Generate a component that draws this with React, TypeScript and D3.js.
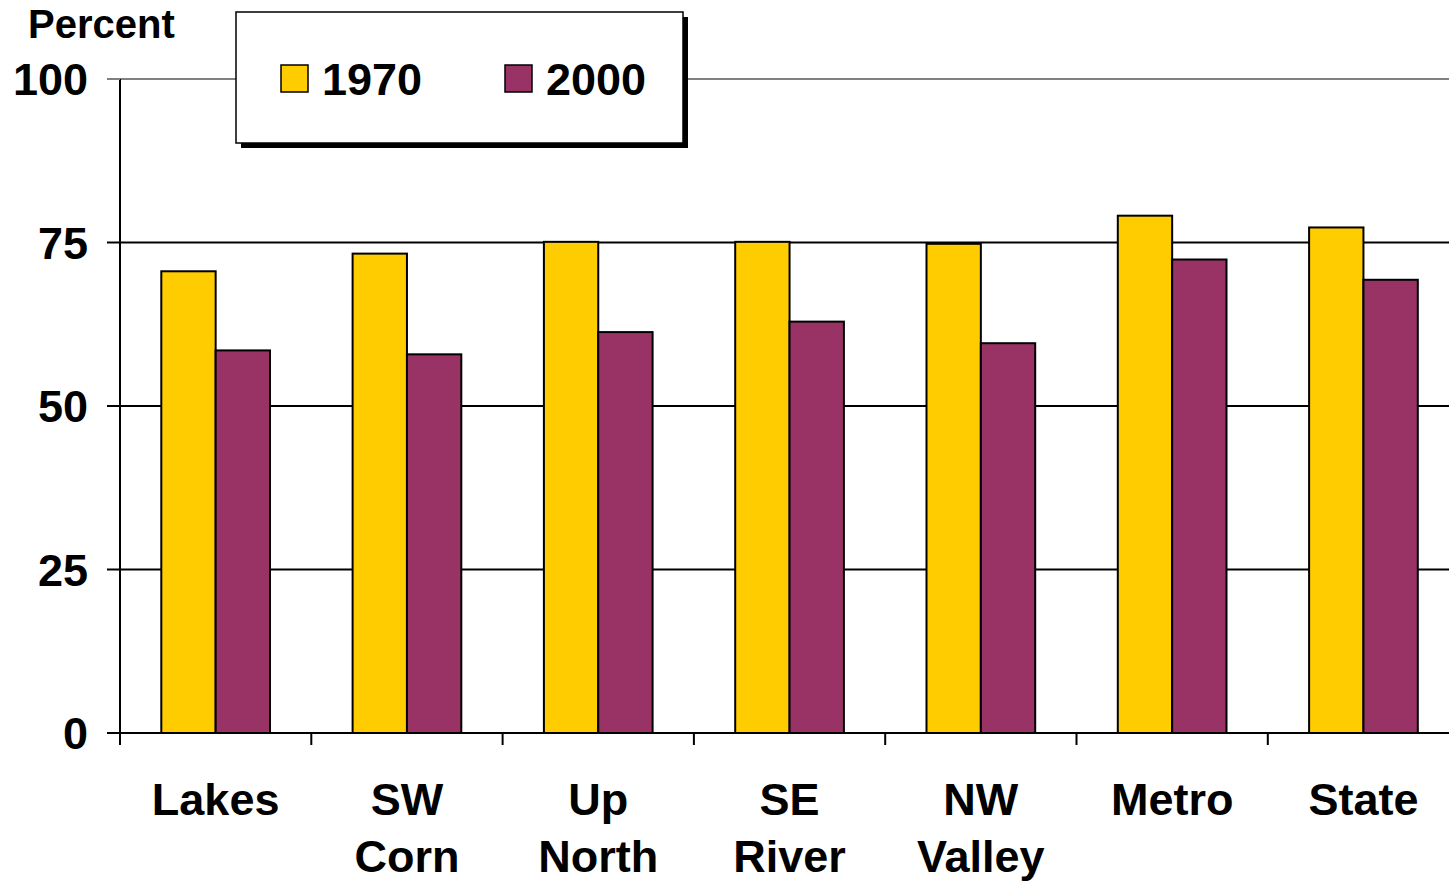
import React from 'react';
import { scaleBand, scaleLinear } from 'd3';

const categories = [['Lakes'], ['SW', 'Corn'], ['Up', 'North'], ['SE', 'River'], ['NW', 'Valley'], ['Metro'], ['State']];
const seriesNames = ['1970', '2000'];
const values1970 = [70.6, 73.3, 75.1, 75.1, 74.8, 79.1, 77.3];
const values2000 = [58.5, 57.9, 61.3, 62.9, 59.6, 72.4, 69.3];
const yTicks = [0, 25, 50, 75, 100];

const colors: Record<string, string> = { '1970': '#FFCC00', '2000': '#993366' };
const font = '"Liberation Sans", Arial, sans-serif';

export default function App() {
  const width = 1449;
  const height = 882;
  const left = 120;
  const top = 79;
  const bottom = 733;

  const keys = categories.map(c => c.join(' '));
  const x0 = scaleBand<string>().domain(keys).range([left, left + 191.3 * 7]).padding(0);
  const x1 = scaleBand<string>().domain(seriesNames).range([0, x0.bandwidth()]).paddingInner(0).paddingOuter(0.76);
  const y = scaleLinear().domain([0, 100]).range([bottom, top]);

  const rows = keys.map((k, i) => ({ key: k, lines: categories[i], v: { '1970': values1970[i], '2000': values2000[i] } as Record<string, number> }));

  return (
    <svg width={width} height={height} style={{ position: 'absolute', left: 0, top: 0, background: '#fff' }} fontFamily={font}>
      {/* gridlines */}
      {yTicks.filter(t => t > 0).map(t => (
        <line key={t} x1={left} x2={width} y1={y(t)} y2={y(t)} stroke={t === 100 ? '#808080' : '#000'} strokeWidth={2} />
      ))}

      {/* bars */}
      {rows.map(r => (
        <g key={r.key} transform={`translate(${x0(r.key)},0)`}>
          {seriesNames.map(s => (
            <rect key={s} x={x1(s)} y={y(r.v[s])} width={x1.bandwidth()} height={bottom - y(r.v[s])}
              fill={colors[s]} stroke="#000" strokeWidth={2} />
          ))}
        </g>
      ))}

      {/* y axis */}
      <line x1={left} x2={left} y1={top} y2={bottom + 12} stroke="#000" strokeWidth={2} />
      {yTicks.map(t => (
        <g key={t}>
          <line x1={left - 13} x2={left} y1={y(t)} y2={y(t)} stroke={t === 100 ? '#808080' : '#000'} strokeWidth={2} />
          <text x={88} y={y(t)} dy="0.36em" textAnchor="end" fontSize={45} fontWeight="bold">{t}</text>
        </g>
      ))}
      <text x={28} y={38} fontSize={40} fontWeight="bold">Percent</text>

      {/* x axis */}
      <line x1={left} x2={width} y1={bottom} y2={bottom} stroke="#000" strokeWidth={2} />
      {keys.map(k => (
        <line key={k} x1={x0(k)} x2={x0(k)} y1={bottom} y2={bottom + 12} stroke="#000" strokeWidth={2} />
      ))}
      {rows.map(r => (
        <text key={r.key} x={(x0(r.key) as number) + x0.bandwidth() / 2} textAnchor="middle" fontSize={45} fontWeight="bold">
          {r.lines.map((l, i) => (
            <tspan key={i} x={(x0(r.key) as number) + x0.bandwidth() / 2} y={815 + i * 57}>{l}</tspan>
          ))}
        </text>
      ))}

      {/* legend */}
      <rect x={241} y={17} width={447} height={131} fill="#000" />
      <rect x={236} y={12} width={447} height={131} fill="#fff" stroke="#000" strokeWidth={1.5} />
      {seriesNames.map((s, i) => (
        <g key={s} transform={`translate(${281 + i * 224},65)`}>
          <rect x={0} y={0} width={27} height={27} fill={colors[s]} stroke="#000" strokeWidth={1.5} />
          <text x={41} y={30} fontSize={45} fontWeight="bold">{s}</text>
        </g>
      ))}
    </svg>
  );
}
